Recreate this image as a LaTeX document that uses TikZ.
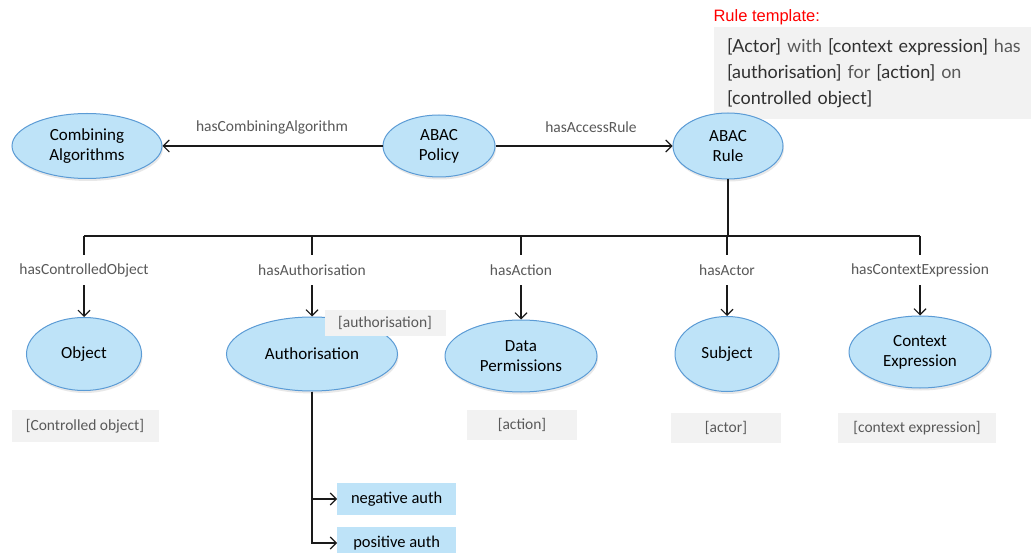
\documentclass[tikz,border=0pt]{standalone}
\usepackage{fontspec}
\setmainfont{Carlito}
\newfontfamily\templatefont{Lato}
\newfontfamily\headfont{Liberation Sans}
\usetikzlibrary{shapes.geometric,arrows.meta,shadows}
\definecolor{abacfill}{HTML}{BEE3F8}
\definecolor{abacedge}{HTML}{5B9BD5}
\definecolor{abacslot}{HTML}{F2F2F2}
\definecolor{abacgray}{HTML}{595959}
\definecolor{abacdark}{HTML}{303030}
\definecolor{abacline}{HTML}{1A1A1A}

\tikzset{
  concept/.style={ellipse, draw=abacedge, fill=abacfill, line width=1pt, inner sep=0pt,
    align=center, font=\fontsize{17}{20}\selectfont,
    drop shadow={opacity=0.18, shadow xshift=1pt, shadow yshift=-2.5pt}},
  relation/.style={fill=white, text=abacgray, inner xsep=5pt, minimum height=30pt,
    font=\fontsize{15.5}{18}\selectfont},
  slot/.style={fill=abacslot, text=abacgray, minimum height=30pt,
    font=\fontsize{15.5}{18}\selectfont},
  authbox/.style={fill=abacfill, minimum width=119pt, minimum height=32pt,
    font=\fontsize{16.5}{19}\selectfont},
  link/.style={draw=abacline, line width=1.1pt},
  linkarrow/.style={link, -{Straight Barb[length=6pt,width=12pt]}}
}

\begin{document}
\begin{tikzpicture}[x=1pt, y=-1pt]
\clip (0,0) rectangle (1031,553);
\fill[white] (0,0) rectangle (1031,553);

% rule template note
\node[anchor=west, text=red, font=\headfont\fontsize{16.5}{19}\selectfont] (tmplhead) at (710,17) {Rule template:};
\node[anchor=north west, fill=abacslot, minimum width=330pt, minimum height=92pt,
  text width=304pt, inner xsep=12pt, inner ysep=6pt, text=abacgray,
  font=\templatefont\fontsize{18}{26}\selectfont] (tmpl) at (714,27)
  {\textcolor{abacdark}{[Actor]} with \textcolor{abacdark}{[context expression]} has\\
   \textcolor{abacdark}{[authorisation]} for \textcolor{abacdark}{[action]} on\\
   \textcolor{abacdark}{[controlled object]}};

% top row
\node[concept, minimum width=150pt, minimum height=65pt] (combalg) at (87,146) {Combining\\Algorithms};
\node[concept, minimum width=112pt, minimum height=62pt] (policy) at (439,146) {ABAC\\Policy};
\node[concept, minimum width=110pt, minimum height=66pt] (rule) at (728,146) {ABAC\\Rule};

\draw[linkarrow] (policy) -- (combalg);
\draw[linkarrow] (policy) -- (rule);
\node[relation] at (272,127) {hasCombiningAlgorithm};
\node[relation] at (591,127) {hasAccessRule};

% second row
\node[concept, minimum width=115pt, minimum height=73pt] (object) at (84,354) {Object};
\node[concept, minimum width=171pt, minimum height=74pt] (auth) at (312,354) {Authorisation};
\node[concept, minimum width=152pt, minimum height=72pt] (action) at (521,356) {Data\\Permissions};
\node[concept, minimum width=104pt, minimum height=75pt] (subject) at (727,354) {Subject};
\node[concept, minimum width=142pt, minimum height=72pt] (context) at (920,352) {Context\\Expression};

\coordinate (bar) at (0,236);
\coordinate (labelrow) at (0,270);
\draw[link] (rule) -- (rule |- bar);
\draw[link] (object.north |- bar) -- (context.north |- bar);
\foreach \n/\t in {object/hasControlledObject, auth/hasAuthorisation, action/hasAction,
                   subject/hasActor, context/hasContextExpression} {
  \draw[linkarrow] (\n.north |- bar) -- (\n.north);
  \node[relation] at (\n.north |- labelrow) {\t};
}

% value slots
\node[slot, minimum width=147pt, minimum height=32pt] (objslot) at (85,426) {[Controlled object]};
\node[slot, minimum width=121pt, minimum height=26pt] (authslot) at (385,323) {[authorisation]};
\node[slot, minimum width=110pt] (actslot) at (522,425) {[action]};
\node[slot, minimum width=110pt] (subjslot) at (726,428) {[actor]};
\node[slot, minimum width=158pt] (ctxslot) at (917,428) {[context expression]};

% authorisation kinds
\node[authbox, anchor=west] (negauth) at (337,499) {negative auth};
\node[authbox, anchor=west] (posauth) at (337,543) {positive auth};
\draw[linkarrow] (auth.south) |- (negauth.west);
\draw[linkarrow] (auth.south) |- (posauth.west);
\end{tikzpicture}
\end{document}
